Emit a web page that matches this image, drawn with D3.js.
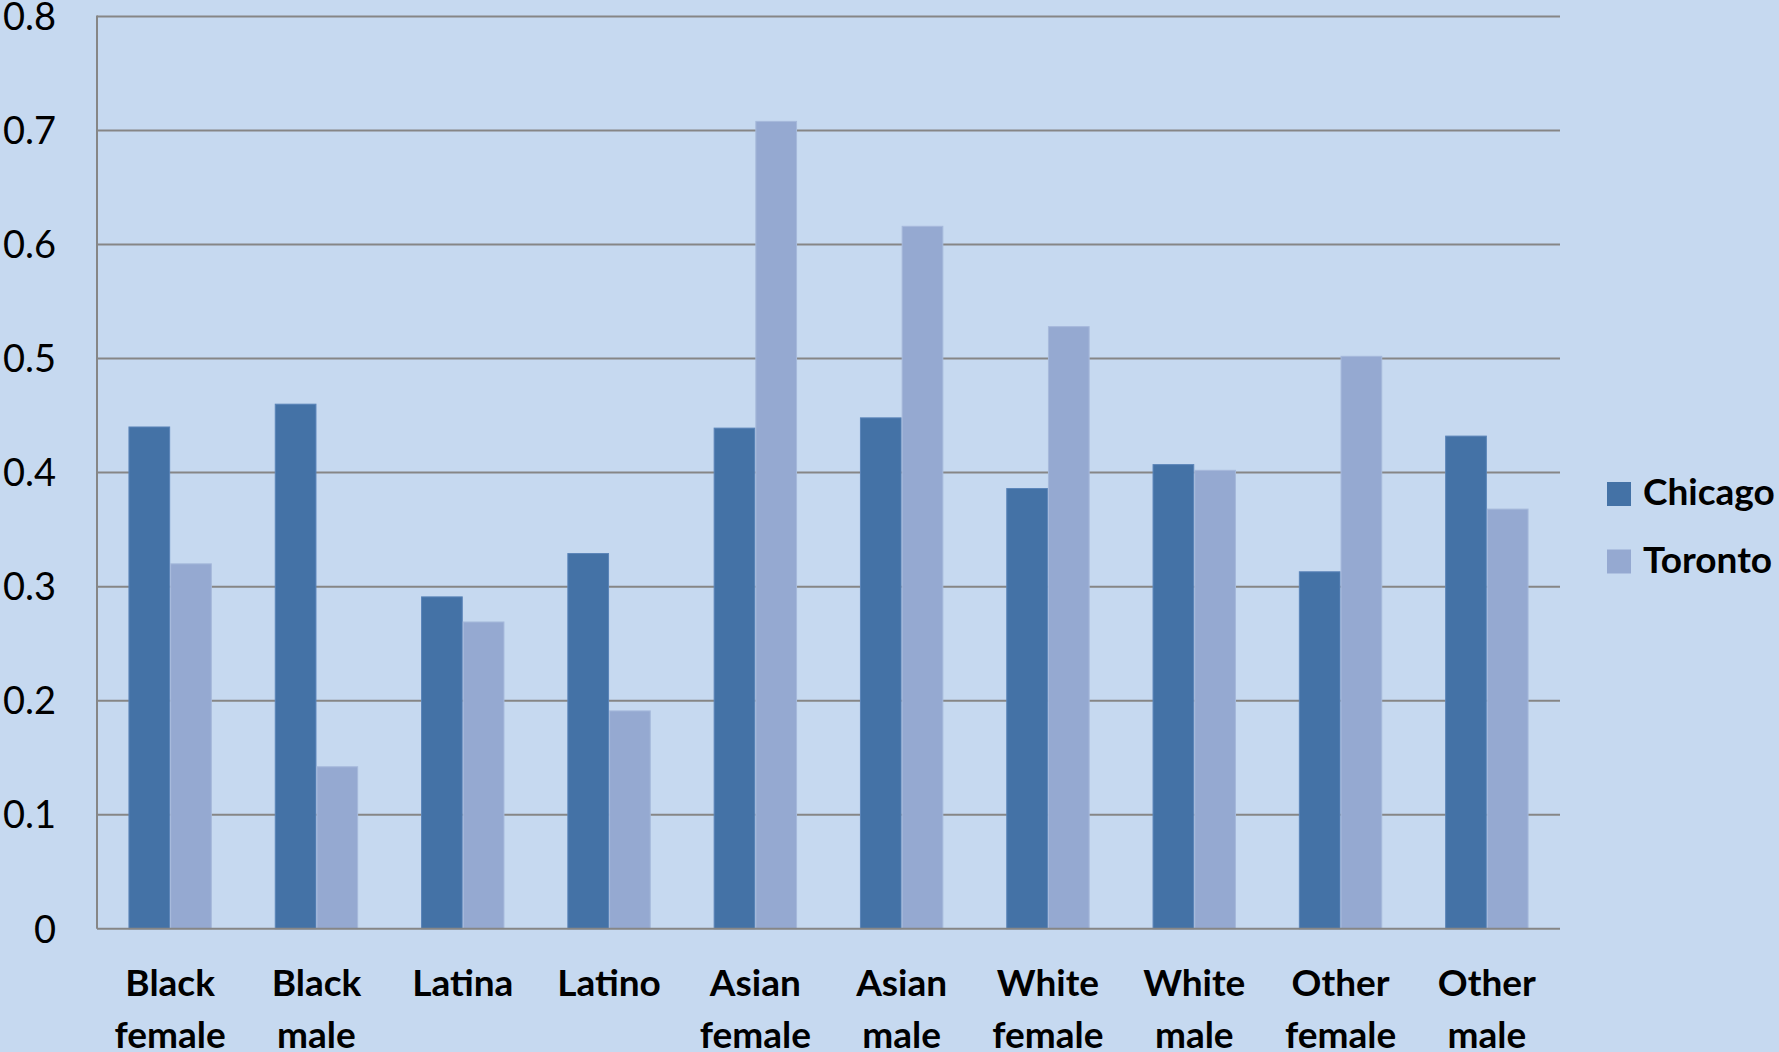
<!DOCTYPE html>
<html>
<head>
<meta charset="utf-8">
<script src="https://cdn.jsdelivr.net/npm/d3@7"></script>
<style>
  html, body { margin: 0; padding: 0; background: #C6D9F0; overflow: hidden; }
  svg { display: block; }
  text { font-family: Lato, "Open Sans", sans-serif; fill: #000; }
</style>
</head>
<body>
<svg id="chart" width="1779" height="1052"></svg>
<script>
// Categories (two-line labels) and series values
const categories = [
  ["Black", "female"], ["Black", "male"], ["Latina"], ["Latino"],
  ["Asian", "female"], ["Asian", "male"], ["White", "female"], ["White", "male"],
  ["Other", "female"], ["Other", "male"]
];
const seriesNames = ["Chicago", "Toronto"];
const chicago = [0.440, 0.460, 0.291, 0.329, 0.439, 0.448, 0.386, 0.407, 0.313, 0.432];
const toronto = [0.320, 0.142, 0.269, 0.191, 0.708, 0.616, 0.528, 0.402, 0.502, 0.368];
const yTicks = [0, 0.1, 0.2, 0.3, 0.4, 0.5, 0.6, 0.7, 0.8];

const fills = { Chicago: "#4472A6", Toronto: "#95A9D1" };
const edges = { Chicago: "#5A84B8", Toronto: "#A6B9DB" };

const svg = d3.select("#chart");
const plot = { left: 97, right: 1560, top: 16.5, bottom: 928.7 };

const x = d3.scaleBand()
  .domain(d3.range(categories.length))
  .range([plot.left, plot.right])
  .paddingInner(0.43)
  .paddingOuter(0.215);

const xs = d3.scaleBand()
  .domain(seriesNames)
  .range([0, x.bandwidth()]);

const y = d3.scaleLinear().domain([0, 0.8]).range([plot.bottom, plot.top]);

// horizontal gridlines
svg.append("g")
  .selectAll("line")
  .data(yTicks.filter(d => d > 0))
  .join("line")
  .attr("x1", plot.left).attr("x2", plot.right)
  .attr("y1", d => y(d)).attr("y2", d => y(d))
  .attr("stroke", "#868686").attr("stroke-width", 2);

// y tick labels
const yAxis = d3.axisLeft(y).tickValues(yTicks).tickSize(0).tickPadding(0)
  .tickFormat(d => d === 0 ? "0" : d3.format(".1f")(d));
const ya = svg.append("g").attr("transform", `translate(56,0)`).call(yAxis);
ya.select(".domain").remove();
ya.selectAll("text")
  .attr("x", 0).attr("dy", "0.35em")
  .style("font-family", "Lato, sans-serif")
  .style("font-size", "38px").attr("fill", "#000");

// bars
const rows = categories.map((c, i) => ({ i, values: [
  { key: "Chicago", v: chicago[i] }, { key: "Toronto", v: toronto[i] }
]}));

const groups = svg.append("g").selectAll("g")
  .data(rows).join("g")
  .attr("transform", d => `translate(${x(d.i)},0)`);

groups.selectAll("rect")
  .data(d => d.values).join("rect")
  .attr("x", d => xs(d.key) + 0.5)
  .attr("width", xs.bandwidth() - 1)
  .attr("y", d => y(d.v))
  .attr("height", d => y(0) - y(d.v))
  .attr("fill", d => fills[d.key])
  .attr("stroke", d => edges[d.key])
  .attr("stroke-width", 1);

// axes lines
svg.append("line")
  .attr("x1", plot.left).attr("x2", plot.left)
  .attr("y1", plot.top - 1).attr("y2", plot.bottom)
  .attr("stroke", "#868686").attr("stroke-width", 2);
svg.append("line")
  .attr("x1", plot.left).attr("x2", plot.right)
  .attr("y1", plot.bottom).attr("y2", plot.bottom)
  .attr("stroke", "#868686").attr("stroke-width", 2);

// category labels
const labels = svg.append("g").selectAll("text")
  .data(categories).join("text")
  .attr("text-anchor", "middle")
  .attr("transform", (d, i) => `translate(${x(i) + x.bandwidth() / 2},996)`)
  .style("font-size", "37px").style("font-weight", "700");
labels.selectAll("tspan")
  .data(d => d).join("tspan")
  .attr("x", 0)
  .attr("y", (d, j) => j * 52)
  .text(d => d);

// legend
const legend = svg.append("g").attr("transform", "translate(1607,482)");
const li = legend.selectAll("g").data(seriesNames).join("g")
  .attr("transform", (d, i) => `translate(0,${i * 67.5})`);
li.append("rect").attr("width", 24).attr("height", 24)
  .attr("fill", d => fills[d]);
li.append("text").attr("x", 36).attr("y", 23)
  .style("font-size", "37px").style("font-weight", "700")
  .text(d => d);
</script>
</body>
</html>
